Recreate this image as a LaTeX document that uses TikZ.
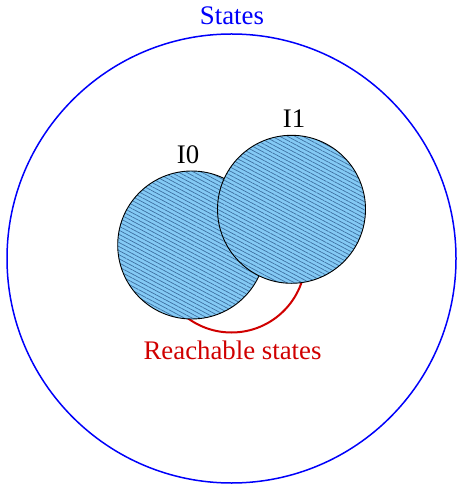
\documentclass[tikz,border=0pt]{standalone}
\usepackage{fontspec}
\setmainfont{Liberation Serif}
\usepackage{xcolor}
\usepackage{tikz}
\usetikzlibrary{patterns.meta}
\definecolor{setblue}{RGB}{0,0,250}
\definecolor{reachred}{RGB}{208,0,0}
\definecolor{initfill}{RGB}{132,202,245}
\definecolor{inithatch}{RGB}{62,112,162}
\tikzset{
    setlabel/.style={font=\fontsize{13.4}{15}\selectfont, anchor=base, inner sep=0pt},
    stateset/.style={circle, inner sep=0pt, minimum size=224.5pt, draw=setblue, line width=0.75pt},
    reachset/.style={circle, inner sep=0pt, minimum size=74pt, draw=reachred, line width=1pt},
    initset/.style={circle, inner sep=0pt, minimum size=74pt, draw=black, line width=0.45pt,
        preaction={fill=initfill},
        pattern={Lines[angle=-28, distance=1.8pt, line width=0.35pt]},
        pattern color=inithatch},
}

\begin{document}
\begin{tikzpicture}[x=0.5pt, y=-0.5pt]
    \useasboundingbox (0,0) rectangle (456,485);

    % all states
    \node[stateset] (states) at (231.5,258.5) {};
    \node[setlabel, text=setblue] (stateslbl) at (232,25) {States};

    % reachable states, mostly hidden by the initial sets
    \node[reachset] (reach) at (231.5,258.5) {};
    \node[setlabel, text=reachred] (reachlbl) at (232.5,359) {Reachable states};

    % initial sets
    \node[initset] (i0) at (191.7,245) {};
    \node[initset] (i1) at (291.5,209.3) {};
    \node[setlabel] (i0lbl) at (188,164) {I0};
    \node[setlabel] (i1lbl) at (294,127.7) {I1};
\end{tikzpicture}
\end{document}
